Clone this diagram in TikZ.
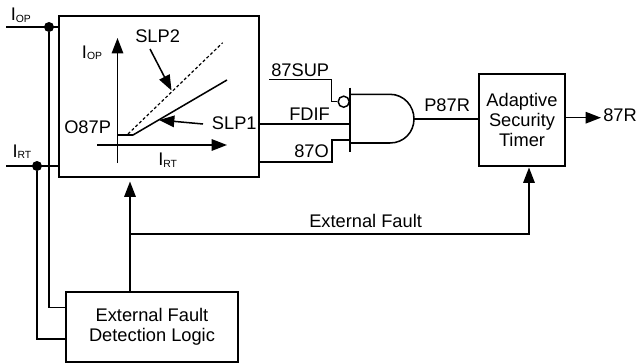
\documentclass[tikz,border=0pt]{standalone}
\usepackage{fontspec}
\setmainfont{Liberation Sans}
\usetikzlibrary{arrows.meta,calc}
\newcommand{\subs}[1]{\raisebox{-1pt}{\fontsize{7.8}{9}\selectfont #1}}
\tikzset{
 wire/.style={line width=1.15pt,line join=miter},
 thin wire/.style={line width=0.9pt},
 arr/.style={wire,-{Triangle[length=11.5pt,width=8.6pt]}},
 block/.style={draw,line width=1.25pt,inner sep=0pt,align=center,font=\fontsize{13.7}{15.3}\selectfont},
 lab/.style={inner sep=0pt,anchor=base west,font=\fontsize{13.7}{15}\selectfont},
 dot/.style={circle,fill=black,inner sep=0pt,minimum size=7.5pt},
}
\begin{document}
\begin{tikzpicture}[x=0.75pt,y=-0.75pt]
\useasboundingbox (0,0) rectangle (637,364);
% blocks
\node[block,minimum width=150pt,minimum height=120.75pt] (main) at (159,96.5) {};
\node[block,minimum width=129pt,minimum height=52.5pt] (efd) at (152,327) {External Fault\\Detection Logic};
\node[block,minimum width=64.5pt,minimum height=69pt] (ast) at (522,120) {Adaptive\\Security\\Timer};
% inputs
\coordinate (iopS) at (6,27); \coordinate (iopE) at (58.5,27);
\coordinate (irtS) at (6,166); \coordinate (irtE) at (58.5,166);
\node[dot] (dop) at (49,27) {};
\node[dot] (drt) at (37,166) {};
\draw[wire] (iopS) -- (iopE);
\draw[wire] (irtS) -- (irtE);
\coordinate (efdA) at (66,307.7); \coordinate (efdB) at (66,339);
\draw[wire] (dop) |- (efdA);
\draw[wire] (drt) |- (efdB);
% characteristic
\coordinate (yB) at (117.5,163); \coordinate (yT) at (117.5,38);
\coordinate (xL) at (97,145); \coordinate (xR) at (227,145);
\draw[arr] (yB) -- (yT);
\draw[arr] (xL) -- (xR);
\coordinate (s0) at (117.5,135); \coordinate (s1) at (133,135); \coordinate (s2) at (227,80);
\draw[wire] (s0) -- (s1) -- (s2);
\coordinate (d1) at (128,134); \coordinate (d2) at (222.7,42.7);
\draw[thin wire,dash pattern=on 2.2pt off 1.7pt] (d1) -- (d2);
\coordinate (a2s) at (150,49); \coordinate (a2e) at (171.5,90.5);
\draw[arr] (a2s) -- (a2e);
\coordinate (a1s) at (203,124); \coordinate (a1e) at (159,120);
\draw[arr] (a1s) -- (a1e);
% external fault
\coordinate (ef) at (130,234);
\coordinate (mainB) at (130,181.5);
\draw[arr] (efd.north -| ef) -- (mainB);
\coordinate (astB) at (529,167.5);
\draw[arr] (ef) -| (astB);
% gate
\coordinate (barT) at (350,87.7); \coordinate (barB) at (350,152);
\draw[wire] (barT) -- (barB);
\coordinate (gO) at (414,119);
\draw[wire] (350,94.3) -- (390,94.3) .. controls (404,94.3) and (414,106) .. (gO) .. controls (414,132) and (404,143) .. (390,143) -- (350,143);
\node[draw,circle,line width=1.1pt,inner sep=0pt,minimum size=8.3pt] (bub) at (343.7,101.7) {};
\coordinate (supS) at (269,79.3); \coordinate (supC) at (331.7,79.3);
\draw[wire] (supS) -- (supC) |- (bub.west);
\coordinate (fS) at (259,124); \coordinate (fE) at (350,124);
\draw[wire] (fS) -- (fE);
\coordinate (oS) at (259,162); \coordinate (oC) at (332,162); \coordinate (oE) at (350,140);
\draw[wire] (oS) -- (oC) |- (oE);
\draw[wire] (gO) -- (ast.west |- gO);
\coordinate (out) at (601,117.7);
\draw[arr] (ast.east |- out) -- (out);
% labels
\node[lab] (t1) at (10.5,20.7) {I\subs{OP}};
\node[lab] (t2) at (12.3,157) {I\subs{RT}};
\node[lab] (t3) at (81.7,58) {I\subs{OP}};
\node[lab] (t4) at (135,42) {SLP2};
\node[lab] (t5) at (64,133) {O87P};
\node[lab] (t6) at (211.7,129) {SLP1};
\node[lab] (t7) at (158,165.7) {I\subs{RT}};
\node[lab] (t8) at (271,76) {87SUP};
\node[lab] (t9) at (289,120) {FDIF};
\node[lab] (t10) at (294,157) {87O};
\node[lab] (t11) at (424,112) {P87R};
\node[lab] (t12) at (603,121.7) {87R};
\node[lab] (t13) at (309,227) {External Fault};
\end{tikzpicture}
\end{document}
